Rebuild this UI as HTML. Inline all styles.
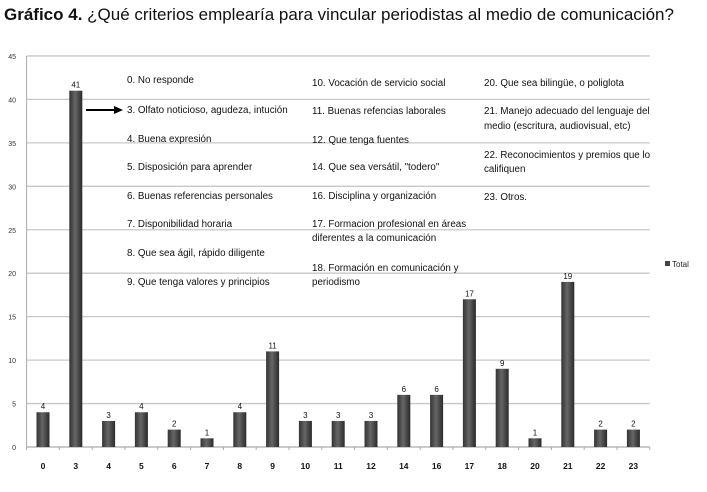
<!DOCTYPE html>
<html><head><meta charset="utf-8"><style>
body{margin:0;background:#fff;width:707px;height:487px;overflow:hidden;font-family:"Liberation Sans",sans-serif}
svg text{font-family:"Liberation Sans",sans-serif}
</style></head><body>
<svg id="c" width="707" height="487">
<defs><linearGradient id="g" x1="0" x2="1" y1="0" y2="0">
<stop offset="0" stop-color="#333"/><stop offset="0.45" stop-color="#666"/><stop offset="1" stop-color="#2a2a2a"/></linearGradient></defs>
<text x="4" y="20" font-size="17" fill="#111"><tspan font-weight="bold">Gráfico 4.</tspan> ¿Qué criterios emplearía para vincular periodistas al medio de comunicación?</text>
<g id="grid"></g><g id="bars"></g>
<g font-size="9.8" fill="#111">
<text x="127" y="83">0. No responde</text>
<text x="127" y="113">3. Olfato noticioso, agudeza, intución</text>
<text x="127" y="142">4. Buena expresión</text>
<text x="127" y="170">5. Disposición para aprender</text>
<text x="127" y="199">6. Buenas referencias personales</text>
<text x="127" y="227">7. Disponibilidad horaria</text>
<text x="127" y="256">8. Que sea ágil, rápido diligente</text>
<text x="127" y="285">9. Que tenga valores y principios</text>
<text x="312" y="86">10. Vocación de servicio social</text>
<text x="312" y="114">11. Buenas refencias laborales</text>
<text x="312" y="143">12. Que tenga fuentes</text>
<text x="312" y="170">14. Que sea versátil, "todero"</text>
<text x="312" y="199">16. Disciplina y organización</text>
<text x="312" y="227">17. Formacion profesional en áreas</text>
<text x="312" y="241">diferentes a la comunicación</text>
<text x="312" y="271">18. Formación en comunicación y</text>
<text x="312" y="285">periodismo</text>
<text x="484" y="86">20. Que sea bilingüe, o poliglota</text>
<text x="484" y="114">21. Manejo adecuado del lenguaje del</text>
<text x="484" y="129">medio (escritura, audiovisual, etc)</text>
<text x="484" y="158">22. Reconocimientos y premios que lo</text>
<text x="484" y="172">califiquen</text>
<text x="484" y="200">23. Otros.</text>
</g>
<g><line x1="86" y1="110" x2="116" y2="110" stroke="#000" stroke-width="2"/><polygon points="114,106 123,110 114,114" fill="#000"/></g>
<g><rect x="665" y="261" width="5" height="5" fill="#444"/><text x="672" y="267" font-size="8" fill="#222">Total</text></g>
</svg>
<script>
const categories=["0","3","4","5","6","7","8","9","10","11","12","14","16","17","18","20","21","22","23"];
const values=[4,41,3,4,2,1,4,11,3,3,3,6,6,17,9,1,19,2,2];
const yTicks=[0,5,10,15,20,25,30,35,40,45];
const NS="http://www.w3.org/2000/svg";
const x0=26.6,band=32.8,y0=447,py=8.69;
const xs=i=>x0+band*(i+0.5), ys=v=>y0-v*py;
const grid=document.getElementById('grid'),bars=document.getElementById('bars');
function mk(t,a,p){const e=document.createElementNS(NS,t);for(const k in a)e.setAttribute(k,a[k]);p.appendChild(e);return e;}
const xEnd=x0+band*categories.length;
yTicks.forEach(t=>{
 const l=mk('line',{x1:x0,x2:xEnd,y1:ys(t),y2:ys(t),stroke:t?'#c8c8c8':'#aaa','stroke-width':1.3},grid);
 
 
 const tx=mk('text',{x:16,y:ys(t)+3,'font-size':7,'text-anchor':'end',fill:'#333'},grid);tx.textContent=t;
 
 
});
const ax=mk('line',{x1:x0,x2:x0,y1:ys(45),y2:y0+3,stroke:'#aaa'},grid);


categories.forEach((c,i)=>{
 mk('line',{x1:x0+band*(i+1),x2:x0+band*(i+1),y1:y0,y2:y0+3,stroke:'#aaa'},grid);
 const v=values[i],x=xs(i);
 const r=mk('rect',{x:x-6.5,y:ys(v),width:13,height:v*py,fill:'url(#g)'},bars);
 
 
 const t=mk('text',{x:x,y:ys(v)-3,'font-size':8,'text-anchor':'middle',fill:'#111'},bars);t.textContent=v;
 
 
 const l=mk('text',{x:x,y:469,'font-size':8.5,'font-weight':'bold','text-anchor':'middle',fill:'#111'},bars);l.textContent=c;
 
 
});
</script>
</body></html>
